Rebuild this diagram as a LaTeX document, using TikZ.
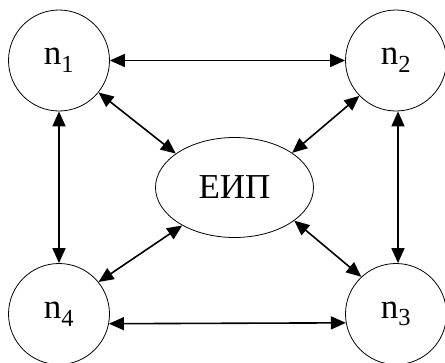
\documentclass[tikz,border=0pt]{standalone}
\usepackage{fontspec}
\setmainfont{Liberation Serif}
\usetikzlibrary{arrows.meta,shapes.geometric}
\tikzset{
  nodecirc/.style={draw, circle, line width=0.8pt, minimum size=101pt, inner sep=0pt, font=\fontsize{35}{40}\selectfont},
  hubell/.style={draw, ellipse, line width=0.8pt, minimum width=158pt, minimum height=100pt, inner sep=0pt, font=\fontsize{35}{40}\selectfont},
  link/.style={line width=1.6pt, {Triangle[length=15pt,width=13pt]}-{Triangle[length=15pt,width=13pt]}}
}
\begin{document}
\begin{tikzpicture}[x=1pt,y=1pt]
\useasboundingbox (0,0) rectangle (445,-362);
\node[nodecirc] (n1) at (59,-60.5) {n\textsubscript{1}};
\node[nodecirc] (n2) at (396,-60.5) {n\textsubscript{2}};
\node[nodecirc] (n3) at (396,-314) {n\textsubscript{3}};
\node[nodecirc] (n4) at (59,-314) {n\textsubscript{4}};
\node[hubell] (e) at (234.5,-187.5) {ЕИП};
\draw[link] (n1.east) -- (n2.west);
\draw[link] (n4.-11) -- (n3.190);
\draw[link] (n1.south) -- (n4.north);
\draw[link] ([xshift=2pt]n2.south) -- ([xshift=2pt]n3.north);
\draw[link] (n1.-39) -- (e.150);
\draw[link] (n2.224) -- (e.31);
\draw[link] (n4.39) -- (e.216);
\draw[link] (n3.133) -- (e.-29);
\end{tikzpicture}
\end{document}
